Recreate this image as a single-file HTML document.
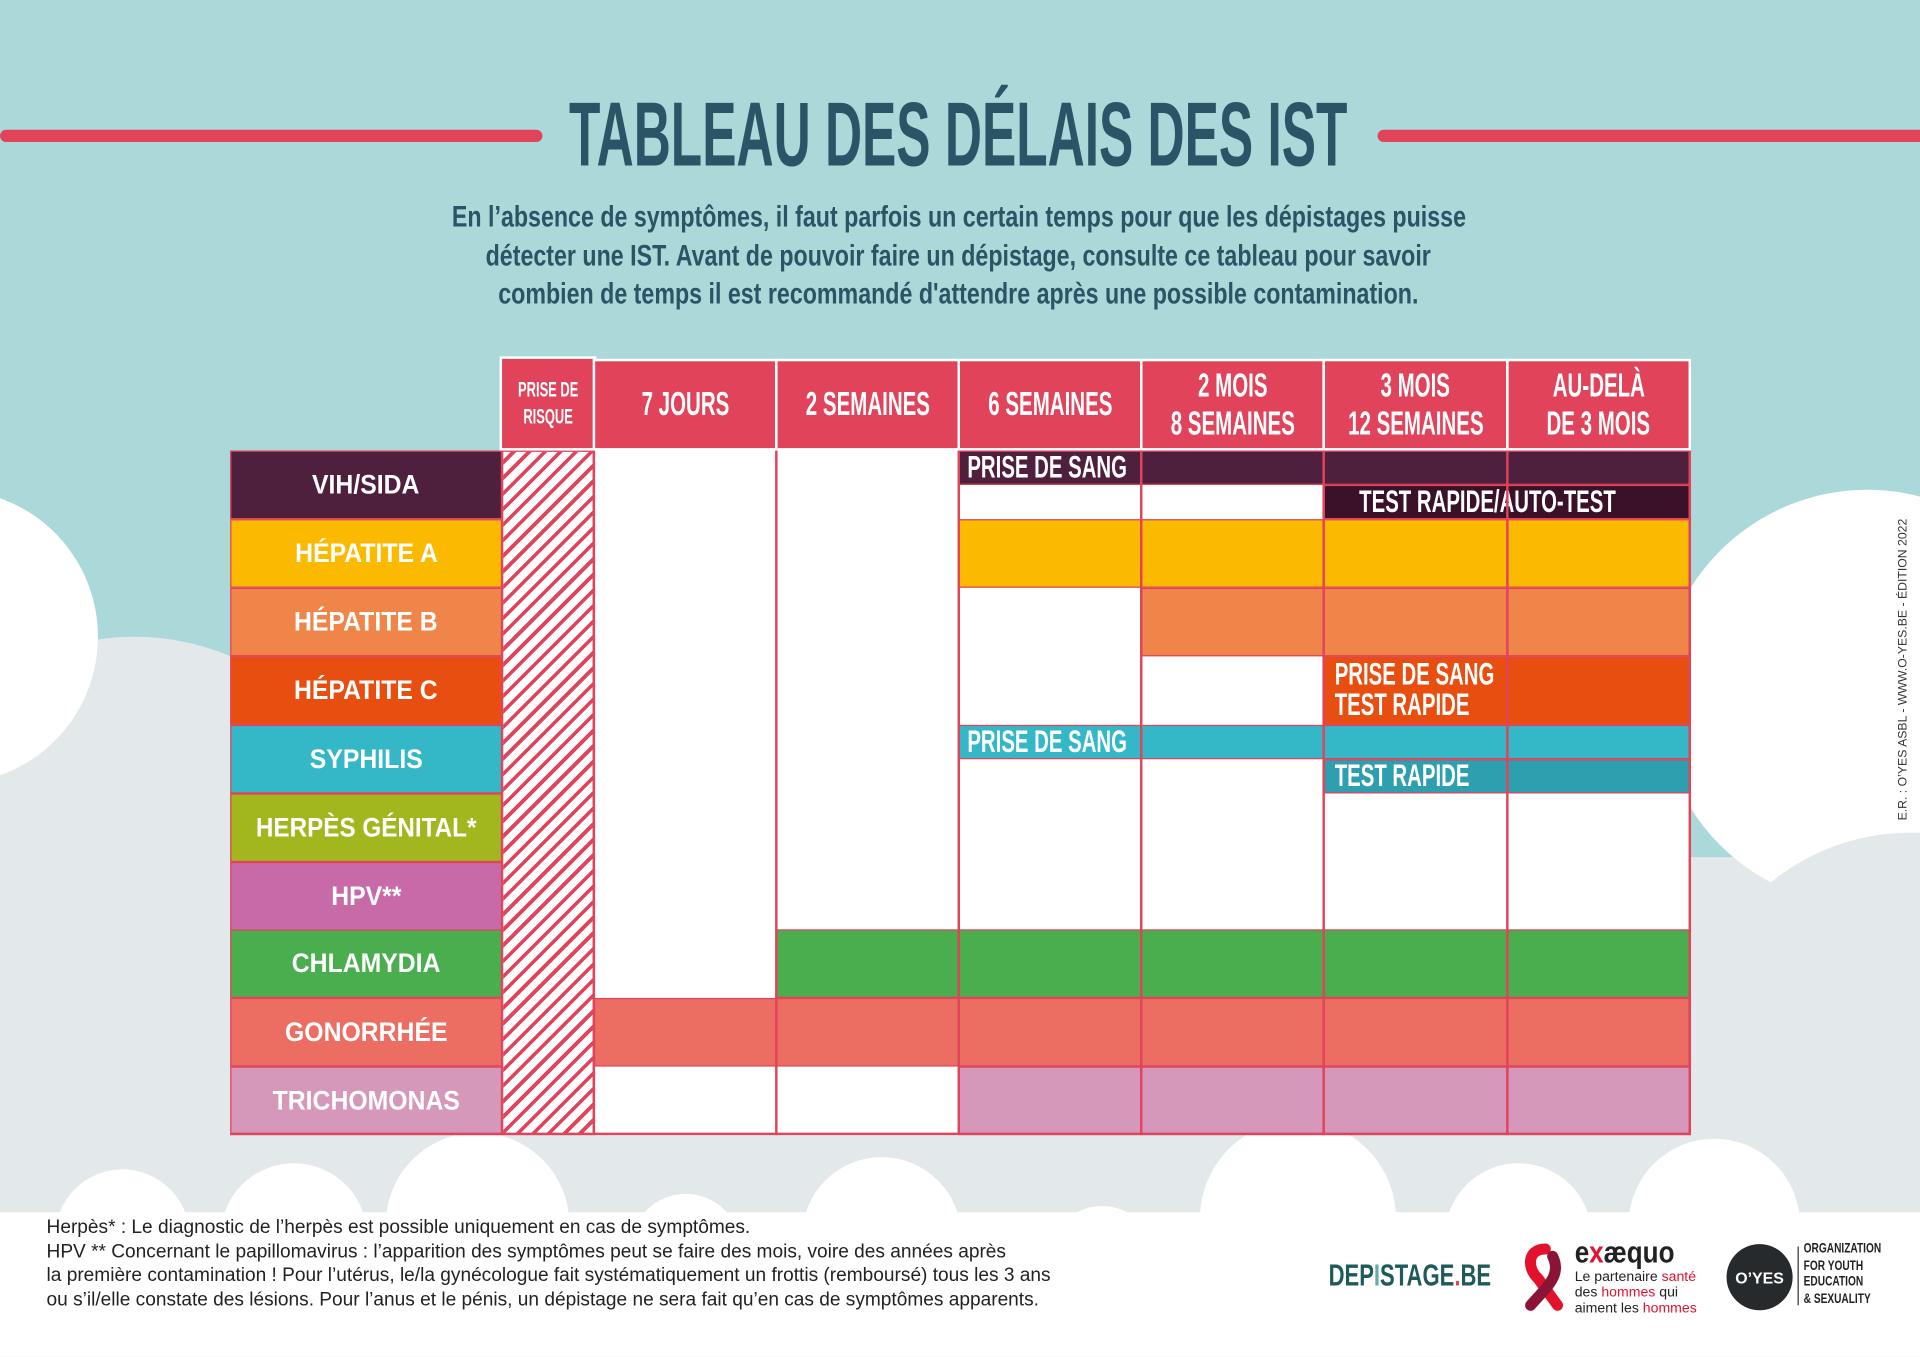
<!DOCTYPE html>
<html><head><meta charset="utf-8">
<style>
*{margin:0;padding:0;box-sizing:border-box}
html,body{width:1920px;height:1357px;overflow:hidden;background:#fff}
#s{position:absolute;left:0;top:0;width:1568px;height:1108px;transform:scale(1.22449);transform-origin:0 0;overflow:hidden;font-family:"Liberation Sans",sans-serif}
.a{position:absolute}
.n{font-weight:bold}
.k{display:inline-block;white-space:nowrap}
.h{position:absolute;top:295px;height:71px;background:#e0435a;color:#fff;display:flex;align-items:center;justify-content:center;text-align:center;font-size:27px;line-height:31px;font-weight:bold;outline:2px solid #fff;overflow:visible}
.h .k{transform:scaleX(0.62)}
.l{position:absolute;left:188px;width:222px;height:56px;color:#fff;font-weight:bold;font-size:22px;display:flex;align-items:center;justify-content:center;border:1.5px solid #e0435a}
.l .k{transform:scaleX(0.92)}
.b{position:absolute;border:1.5px solid #e0435a}
.v{position:absolute;top:368px;height:559px;width:2px;background:#e0435a}
.t{color:#fff;font-size:26px;font-weight:bold;line-height:25px;white-space:nowrap}
.t .k{transform:scaleX(0.64);transform-origin:0 50%}
</style></head><body><div id="s">
<svg class="a" style="left:0;top:0" width="1568" height="1108">
<rect width="1568" height="1108" fill="#abd8d8"/>
<g fill="#e3e8ea">
<circle cx="110" cy="720" r="200"/>
<rect x="0" y="700" width="1568" height="300"/>
</g>
<g fill="#fff">
<circle cx="-40" cy="520" r="120"/>
<circle cx="1525" cy="570" r="170"/>
</g>
<g fill="#e3e8ea">
<circle cx="1560" cy="860" r="180"/>
</g>
<g fill="#fff">
<rect x="0" y="990" width="1568" height="120"/>
<circle cx="240" cy="1010" r="60"/>
<circle cx="390" cy="1000" r="75"/>
<circle cx="560" cy="1020" r="45"/>
<circle cx="720" cy="1010" r="65"/>
<circle cx="900" cy="1030" r="45"/>
<circle cx="1060" cy="995" r="80"/>
<circle cx="1240" cy="1010" r="60"/>
<circle cx="1400" cy="1000" r="70"/>
<circle cx="100" cy="1010" r="55"/>
</g>
<rect x="0" y="106" width="443" height="10" rx="5" fill="#e0435a"/>
<rect x="1125" y="106" width="460" height="10" rx="5" fill="#e0435a"/>
</svg>
<div class="a n" style="left:183px;width:1200px;top:68px;text-align:center;font-size:74px;line-height:84px;color:#2a5566;white-space:nowrap"><span class="k" style="transform:scaleX(0.567)">TABLEAU DES DÉLAIS DES IST</span></div>
<div class="a n" style="left:183px;width:1200px;top:162px;text-align:center;font-size:24px;line-height:31.5px;color:#2a5566"><span class="k" style="transform:scaleX(0.79)">En l’absence de symptômes, il faut parfois un certain temps pour que les dépistages puisse</span><br><span class="k" style="transform:scaleX(0.79)">détecter une IST. Avant de pouvoir faire un dépistage, consulte ce tableau pour savoir</span><br><span class="k" style="transform:scaleX(0.79)">combien de temps il est recommandé d'attendre après une possible contamination.</span></div>

<div class="h" style="left:410px;top:293px;height:73px;width:75px;font-size:17px;line-height:22px"><div><span class="k" style="transform:scaleX(0.62)">PRISE DE</span><br><span class="k" style="transform:scaleX(0.62)">RISQUE</span></div></div>
<div class="h" style="left:486px;width:147px"><span class="k">7 JOURS</span></div>
<div class="h" style="left:635px;width:147px"><span class="k">2 SEMAINES</span></div>
<div class="h" style="left:784px;width:147px"><span class="k">6 SEMAINES</span></div>
<div class="h" style="left:933px;width:147px"><div><span class="k">2 MOIS</span><br><span class="k">8 SEMAINES</span></div></div>
<div class="h" style="left:1082px;width:148px"><div><span class="k">3 MOIS</span><br><span class="k">12 SEMAINES</span></div></div>
<div class="h" style="left:1232px;width:147px"><div><span class="k">AU-DELÀ</span><br><span class="k">DE 3 MOIS</span></div></div>

<div class="a" style="left:485px;top:368px;width:895px;height:559px;background:#fff"></div>
<div class="a" style="left:410px;top:368px;width:75px;height:559px;border:1.5px solid #e0435a;background:repeating-linear-gradient(-45deg,#fff 0 6px,#e0435a 6px 9px)"></div>

<div class="l" style="top:368px;background:#4f1f3e"><span class="k">VIH/SIDA</span></div>
<div class="l" style="top:424px;background:#fbb900"><span class="k">HÉPATITE A</span></div>
<div class="l" style="top:480px;background:#f0854a"><span class="k">HÉPATITE B</span></div>
<div class="l" style="top:536px;background:#e84e10"><span class="k">HÉPATITE C</span></div>
<div class="l" style="top:592px;background:#34b8c8"><span class="k">SYPHILIS</span></div>
<div class="l" style="top:648px;background:#a2b61d"><span class="k" style="transform:scaleX(0.9)">HERPÈS GÉNITAL*</span></div>
<div class="l" style="top:704px;background:#c96aa8"><span class="k">HPV**</span></div>
<div class="l" style="top:759px;background:#4aad4e"><span class="k">CHLAMYDIA</span></div>
<div class="l" style="top:815px;background:#ec6e62"><span class="k">GONORRHÉE</span></div>
<div class="l" style="top:871px;background:#d598bb"><span class="k">TRICHOMONAS</span></div>

<div class="b" style="left:783px;top:368px;width:597px;height:28px;background:#4f1f3e"></div>
<div class="b t" style="left:783px;top:368px;width:149px;height:28px;background:#4f1f3e;padding-left:6px"><span class="k">PRISE DE SANG</span></div>
<div class="b t" style="left:1081px;top:396px;width:299px;height:28px;background:#3a1129;padding-left:28px"><span class="k">TEST RAPIDE/AUTO-TEST</span></div>
<div class="b" style="left:783px;top:424px;width:597px;height:56px;background:#fbb900"></div>
<div class="b" style="left:932px;top:480px;width:448px;height:56px;background:#f0854a"></div>
<div class="b t" style="left:1081px;top:536px;width:299px;height:56px;background:#e84e10;padding-left:8px;padding-top:1px"><span class="k">PRISE DE SANG</span><br><span class="k">TEST RAPIDE</span></div>
<div class="b t" style="left:783px;top:592px;width:597px;height:28px;background:#34b8c8;padding-left:6px"><span class="k">PRISE DE SANG</span></div>
<div class="b t" style="left:1081px;top:620px;width:299px;height:28px;background:#2e9faf;padding-left:8px"><span class="k">TEST RAPIDE</span></div>
<div class="b" style="left:634px;top:759px;width:746px;height:56px;background:#4aad4e"></div>
<div class="b" style="left:485px;top:815px;width:895px;height:56px;background:#ec6e62"></div>
<div class="b" style="left:783px;top:871px;width:597px;height:56px;background:#d598bb"></div>

<div class="v" style="left:484px"></div>
<div class="v" style="left:633px"></div>
<div class="v" style="left:782px"></div>
<div class="v" style="left:931px"></div>
<div class="v" style="left:1080px"></div>
<div class="v" style="left:1230px"></div>
<div class="v" style="left:1379px"></div>
<div class="a" style="left:188px;top:925px;width:1192px;height:2px;background:#e0435a"></div>

<div class="a" style="left:1549px;top:670px;transform:rotate(-90deg);transform-origin:0 0;font-size:10px;color:#333;white-space:nowrap">E.R. : O’YES ASBL - WWW.O-YES.BE - ÉDITION 2022</div>

<div class="a" style="left:38px;top:993px;font-size:15.6px;line-height:19.5px;color:#222;white-space:nowrap">Herpès* : Le diagnostic de l’herpès est possible uniquement en cas de symptômes.<br>HPV ** Concernant le papillomavirus : l’apparition des symptômes peut se faire des mois, voire des années après<br>la première contamination ! Pour l’utérus, le/la gynécologue fait systématiquement un frottis (remboursé) tous les 3 ans<br>ou s’il/elle constate des lésions. Pour l’anus et le pénis, un dépistage ne sera fait qu’en cas de symptômes apparents.</div>
<div class="a n" style="left:1085px;top:1028px;font-size:25px;color:#1f5a5a;white-space:nowrap"><span class="k" style="transform:scaleX(0.72);transform-origin:0 50%">DEP<span style="color:#6aa">I</span>STAGE<span style="color:#e0435a">.</span>BE</span></div>
<svg class="a" style="left:1242px;top:1014px" width="40" height="58"><path d="M20 6 C5 6 5 22 14 30 L30 52" stroke="#e3122c" stroke-width="9" fill="none" stroke-linecap="round"/><path d="M26 12 C34 28 20 38 8 52" stroke="#8b1436" stroke-width="9" fill="none" stroke-linecap="round"/></svg>
<div class="a" style="left:1286px;top:1009px;font-size:25px;font-weight:bold;color:#222;white-space:nowrap"><span class="k" style="transform:scaleX(0.85);transform-origin:0 50%">e<span style="color:#e3122c">x</span>æquo</span></div>
<div class="a" style="left:1286px;top:1037px;font-size:11.5px;line-height:13px;color:#222;white-space:nowrap">Le partenaire <span style="color:#e3122c">santé</span><br>des <span style="color:#e3122c">hommes</span> qui<br>aiment les <span style="color:#e3122c">hommes</span></div>
<div class="a" style="left:1410px;top:1016px;width:54px;height:54px;border-radius:50%;background:#262a2c;color:#fff;font-size:13px;font-weight:bold;display:flex;align-items:center;justify-content:center">O’YES</div>
<div class="a" style="left:1468px;top:1018px;width:1px;height:48px;background:#333"></div>
<div class="a n" style="left:1473px;top:1014px;font-size:11.5px;line-height:13.5px;color:#222;white-space:nowrap"><span class="k" style="transform:scaleX(0.72);transform-origin:0 50%">ORGANIZATION<br>FOR YOUTH<br>EDUCATION<br>&amp; SEXUALITY</span></div>
</div></body></html>
